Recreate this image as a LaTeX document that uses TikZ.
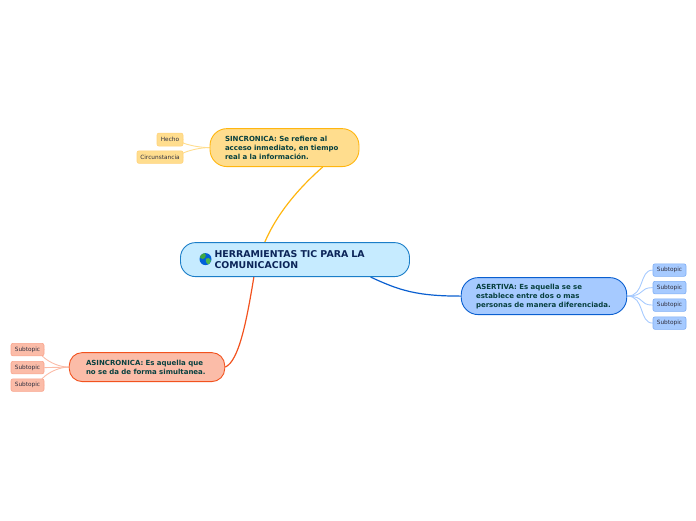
\documentclass[tikz,border=0pt]{standalone}
\usepackage{fontspec}
\setmainfont{DejaVu Sans}
\usetikzlibrary{backgrounds}
\definecolor{mainfill}{HTML}{C6EBFF}\definecolor{mainline}{HTML}{1B7EC8}
\definecolor{synfill}{HTML}{FFDD8E}\definecolor{synline}{HTML}{FFB60F}
\definecolor{asyfill}{HTML}{FBBCA8}\definecolor{asyline}{HTML}{F2521E}
\definecolor{aserfill}{HTML}{A6CAFF}\definecolor{aserline}{HTML}{0A5FD0}
\definecolor{syntwig}{HTML}{FFDD8E}\definecolor{asytwig}{HTML}{FBBCA8}\definecolor{asertwig}{HTML}{A6CAFF}
\definecolor{synedge}{HTML}{FFD27A}\definecolor{asyedge}{HTML}{F9A48C}\definecolor{aseredge}{HTML}{7FAEF5}
\definecolor{bodytext}{HTML}{07403F}\definecolor{maintext}{HTML}{0B2458}\definecolor{subtext}{HTML}{303040}
\tikzset{
 x=1pt,y=-1pt,
 topic/.style={draw,line width=0.9pt,rounded corners=13pt,inner xsep=0pt,inner ysep=0pt,align=left,
   text=bodytext,font=\fontsize{7}{9}\selectfont\bfseries},
 maintopic/.style={topic,rounded corners=15pt,draw=mainline,fill=mainfill,text=maintext,font=\fontsize{9.4}{11}\selectfont\bfseries},
 sub/.style={draw,line width=0.6pt,rounded corners=2pt,inner sep=0pt,text=subtext,font=\fontsize{5.8}{6}\selectfont},
 synsub/.style={sub,draw=synedge,fill=synfill},
 asysub/.style={sub,draw=asyedge,fill=asyfill,minimum width=33pt,minimum height=12.5pt},
 asersub/.style={sub,draw=aseredge,fill=aserfill,minimum width=33pt,minimum height=12.5pt},
 link/.style={line width=1.2pt},
 twig/.style={line width=0.9pt}
}
\begin{document}
\begin{tikzpicture}
\useasboundingbox (0,0) rectangle (696,520);
\begin{scope}[yshift=-0.6pt]
\node[maintopic,minimum width=229pt,minimum height=34pt,text width=161pt] (main) at (295,259)
 {HERRAMIENTAS TIC PARA LA\\COMUNICACION};
\node[topic,draw=synline,fill=synfill,rounded corners=17pt,minimum width=149pt,minimum height=38pt,text width=119pt] (syn) at (284.5,147)
 {SINCRONICA: Se refiere al\\acceso inmediato, en tiempo\\real a la información.};
\node[topic,draw=asyline,fill=asyfill,minimum width=155.5pt,minimum height=29pt,text width=122pt] (asy) at (147,366.5)
 {ASINCRONICA: Es aquella que\\no se da de forma simultanea.};
\node[topic,draw=aserline,fill=aserfill,rounded corners=17pt,minimum width=165.5pt,minimum height=37pt,text width=136pt] (aser) at (544,295.5)
 {ASERTIVA: Es aquella se se\\establece entre dos o mas\\personas de manera diferenciada.};
\node[synsub,minimum width=26pt,minimum height=13pt] (s1) at (170,139) {Hecho};
\node[synsub,minimum width=46pt,minimum height=12.5pt] (s2) at (160,156.5) {Circunstancia};
\node[asysub] (a1) at (27.5,349) {Subtopic};
\node[asysub] (a2) at (27.5,367) {Subtopic};
\node[asysub] (a3) at (27.5,384.5) {Subtopic};
\node[asersub] (r1) at (669.5,269.5) {Subtopic};
\node[asersub] (r2) at (669.5,287) {Subtopic};
\node[asersub] (r3) at (669.5,304.5) {Subtopic};
\node[asersub] (r4) at (669.5,322.5) {Subtopic};
% globe icon
\coordinate (globe) at (205.5,258.5);
\fill[blue!55!cyan!85!black] (globe) circle (6pt);
\begin{scope}
\clip (globe) circle (6pt);
\fill[green!55!black!75] (201,253) .. controls (205,251) and (207,254) .. (205,257) .. controls (204,259) and (202,259) .. (200,257) -- cycle;
\fill[green!60!black!70] (206,258) .. controls (210,256) and (212,260) .. (210,263) .. controls (208,265) and (205,262) .. cycle;
\end{scope}
\begin{scope}[on background layer]
\draw[link,synline] (main.150.5) .. controls +(12,-28) and +(-25,22) .. (syn.-27.8);
\draw[link,asyline] (main.203.8) .. controls +(-7,42) and +(14,-6) .. (asy.east);
\draw[link,aserline] (main.-13.3) .. controls +(28,13) and +(-45,0) .. (aser.west);
\draw[twig,syntwig] (syn.west) .. controls +(-18,0) and +(-13,0) .. (s1.east);
\draw[twig,syntwig] (syn.west) .. controls +(-18,0) and +(-13,0) .. (s2.east);
\draw[twig,asytwig] (asy.west) .. controls +(-18,0) and +(-13,0) .. (a1.east);
\draw[twig,asytwig] (asy.west) -- (a2.east);
\draw[twig,asytwig] (asy.west) .. controls +(-18,0) and +(-13,0) .. (a3.east);
\draw[twig,asertwig] (aser.east) .. controls +(18,0) and +(-14,0) .. (r1.west);
\draw[twig,asertwig] (aser.east) .. controls +(18,0) and +(-14,0) .. (r2.west);
\draw[twig,asertwig] (aser.east) .. controls +(18,0) and +(-14,0) .. (r3.west);
\draw[twig,asertwig] (aser.east) .. controls +(18,0) and +(-14,0) .. (r4.west);
\end{scope}
\end{scope}
\end{tikzpicture}
\end{document}
